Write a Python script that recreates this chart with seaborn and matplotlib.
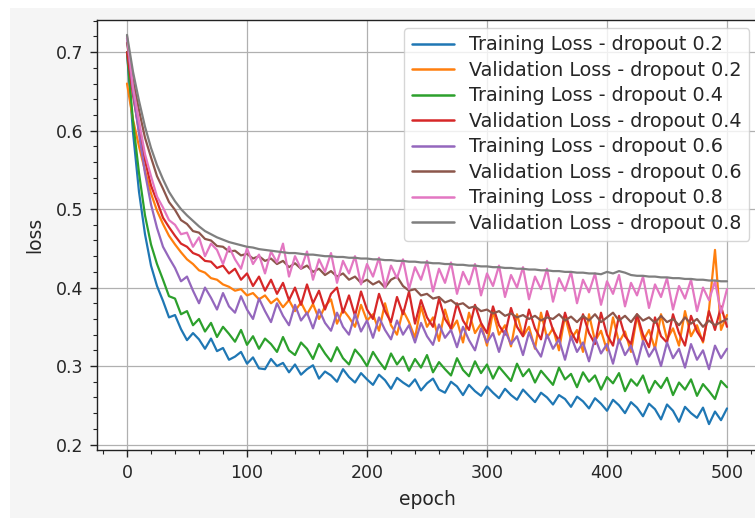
import numpy as np
import pandas as pd
import matplotlib
matplotlib.use("Agg")
import matplotlib.pyplot as plt
from matplotlib.patches import Rectangle
from matplotlib.ticker import MultipleLocator
import seaborn as sns

EPOCHS = list(range(0, 501, 5))

LABELS = [
    "Training Loss - dropout 0.2",
    "Validation Loss - dropout 0.2",
    "Training Loss - dropout 0.4",
    "Validation Loss - dropout 0.4",
    "Training Loss - dropout 0.6",
    "Validation Loss - dropout 0.6",
    "Training Loss - dropout 0.8",
    "Validation Loss - dropout 0.8",
]

train_02 = [
    .700, .598, .522, .468, .428, .402, .383, .362, .365, .347,
    .333, .342, .334, .322, .335, .319, .323, .308, .312, .318,
    .303, .311, .297, .296, .309, .300, .304, .292, .302, .289,
    .296, .301, .284, .293, .288, .280, .296, .286, .279, .291,
    .283, .276, .289, .282, .271, .285, .279, .274, .283, .269,
    .278, .284, .270, .266, .280, .274, .263, .276, .268, .262,
    .274, .266, .259, .271, .263, .257, .270, .262, .254, .266,
    .260, .251, .263, .258, .248, .261, .255, .246, .259, .252,
    .243, .257, .250, .240, .254, .247, .236, .252, .245, .232,
    .251, .243, .229, .248, .240, .234, .247, .226, .242, .231,
    .246,
]

val_02 = [
    .660, .614, .580, .549, .520, .498, .481, .466, .455, .445,
    .436, .430, .422, .419, .412, .410, .404, .401, .396, .398,
    .390, .393, .385, .390, .380, .386, .375, .384, .370, .381,
    .366, .379, .360, .376, .385, .354, .372, .362, .350, .378,
    .358, .366, .345, .380, .352, .340, .371, .356, .336, .376,
    .350, .362, .332, .372, .346, .358, .330, .368, .342, .354,
    .326, .370, .340, .352, .325, .366, .338, .350, .322, .368,
    .336, .348, .320, .364, .334, .346, .318, .366, .332, .345,
    .320, .362, .330, .344, .318, .364, .332, .346, .322, .366,
    .334, .348, .326, .370, .338, .352, .330, .372, .448, .346,
    .365,
]

train_04 = [
    .700, .612, .546, .492, .455, .430, .410, .389, .386, .366,
    .370, .352, .360, .344, .355, .337, .350, .341, .331, .346,
    .327, .338, .322, .335, .328, .318, .337, .320, .314, .330,
    .322, .309, .328, .316, .306, .324, .310, .302, .321, .312,
    .300, .318, .306, .296, .316, .302, .312, .294, .309, .298,
    .314, .292, .305, .296, .288, .310, .295, .287, .306, .291,
    .302, .284, .299, .290, .281, .303, .287, .296, .279, .294,
    .285, .276, .298, .283, .290, .273, .292, .280, .288, .270,
    .286, .278, .291, .268, .283, .275, .288, .266, .281, .272,
    .285, .263, .279, .270, .283, .262, .277, .268, .258, .281,
    .273,
]

val_04 = [
    .700, .645, .600, .562, .530, .510, .489, .477, .466, .456,
    .452, .444, .441, .434, .433, .425, .428, .418, .424, .410,
    .418, .402, .414, .396, .410, .392, .406, .384, .400, .378,
    .404, .380, .396, .372, .392, .400, .368, .390, .364, .395,
    .372, .360, .392, .370, .356, .388, .366, .395, .354, .384,
    .362, .350, .386, .360, .348, .380, .358, .346, .378, .355,
    .342, .376, .352, .340, .374, .350, .338, .372, .348, .334,
    .370, .346, .332, .368, .344, .330, .366, .342, .328, .368,
    .340, .326, .364, .338, .328, .366, .340, .324, .362, .338,
    .330, .366, .342, .326, .364, .344, .332, .370, .346, .376,
    .350,
]

train_06 = [
    .718, .650, .596, .546, .506, .476, .452, .438, .425, .408,
    .414, .396, .380, .400, .387, .372, .393, .376, .368, .389,
    .372, .360, .386, .370, .356, .380, .364, .352, .378, .358,
    .368, .348, .372, .355, .345, .368, .350, .340, .366, .344,
    .358, .336, .362, .346, .334, .358, .340, .352, .330, .355,
    .338, .327, .353, .336, .346, .324, .350, .333, .320, .348,
    .330, .342, .318, .345, .328, .338, .314, .343, .324, .312,
    .340, .322, .334, .308, .338, .318, .330, .306, .336, .316,
    .328, .303, .334, .314, .326, .302, .332, .312, .324, .300,
    .330, .310, .322, .298, .328, .308, .320, .296, .326, .310,
    .322,
]

val_06 = [
    .712, .664, .626, .591, .566, .542, .526, .509, .499, .486,
    .481, .472, .470, .462, .460, .453, .452, .446, .447, .441,
    .443, .437, .440, .434, .437, .430, .434, .426, .431, .424,
    .428, .420, .424, .416, .421, .414, .418, .410, .414, .406,
    .410, .404, .408, .400, .410, .414, .402, .396, .398, .390,
    .392, .386, .388, .381, .384, .378, .380, .374, .376, .370,
    .372, .367, .370, .364, .367, .362, .365, .360, .364, .358,
    .362, .360, .366, .358, .363, .356, .364, .358, .366, .356,
    .362, .368, .358, .364, .356, .366, .358, .362, .355, .364,
    .356, .360, .352, .362, .354, .360, .350, .358, .352, .356,
    .360,
]

train_08 = [
    .720, .655, .612, .570, .542, .516, .502, .486, .480, .468,
    .470, .452, .464, .440, .456, .448, .430, .452, .436, .424,
    .450, .430, .442, .418, .446, .432, .456, .414, .440, .424,
    .446, .410, .436, .420, .444, .406, .434, .418, .440, .404,
    .430, .414, .438, .400, .428, .412, .436, .398, .426, .410,
    .434, .395, .424, .406, .432, .392, .420, .404, .430, .390,
    .418, .402, .428, .388, .416, .400, .426, .385, .414, .398,
    .424, .382, .412, .396, .420, .380, .410, .394, .418, .378,
    .408, .392, .416, .376, .406, .390, .414, .374, .404, .388,
    .412, .372, .402, .386, .410, .370, .400, .384, .408, .368,
    .398,
]

val_08 = [
    .722, .675, .638, .605, .578, .556, .538, .522, .510, .500,
    .492, .485, .478, .472, .468, .464, .461, .458, .456, .454,
    .452, .451, .449, .448, .447, .446, .445, .444, .444, .443,
    .442, .442, .441, .440, .440, .439, .439, .438, .438, .437,
    .437, .436, .436, .435, .435, .434, .434, .433, .433, .432,
    .432, .431, .431, .430, .430, .429, .429, .428, .428, .427,
    .427, .426, .426, .425, .425, .424, .424, .423, .423, .422,
    .422, .421, .421, .420, .420, .419, .419, .418, .418, .417,
    .420, .418, .421, .419, .416, .415, .415, .414, .414, .413,
    .413, .412, .412, .411, .411, .410, .410, .409, .409, .408,
    .408,
]

SERIES = [train_02, val_02, train_04, val_04, train_06, val_06, train_08, val_08]

frames = []
for lab, vals in zip(LABELS, SERIES):
    frames.append(pd.DataFrame({"epoch": EPOCHS[:len(vals)], "loss": vals, "series": lab}))
df = pd.concat(frames, ignore_index=True)

sns.set_style("ticks")
plt.rcParams["font.family"] = ["DejaVu Sans"]

fig = plt.figure(figsize=(7.55, 5.18), dpi=100)
fig.patch.set_facecolor("white")
fig.patches.append(Rectangle((10 / 755, 0), 1, 1 - 8 / 518, transform=fig.transFigure,
                             facecolor="#f5f5f5", edgecolor="none", zorder=-10))
ax = fig.add_axes([97 / 755, 1 - 450 / 518, 660 / 755, 430 / 518])
ax.set_facecolor("white")

palette = sns.color_palette("tab10", 8)
sns.lineplot(data=df, x="epoch", y="loss", hue="series", hue_order=LABELS,
             palette=palette, estimator=None, linewidth=1.6, ax=ax, legend=False)

for lab, col in zip(LABELS, palette):
    ax.plot([], [], color=col, linewidth=1.8, label=lab)

ax.set_xlim(-25, 525)
ax.set_ylim(0.193, 0.741)
ax.xaxis.set_major_locator(MultipleLocator(100))
ax.xaxis.set_minor_locator(MultipleLocator(20))
ax.yaxis.set_major_locator(MultipleLocator(0.1))
ax.yaxis.set_minor_locator(MultipleLocator(0.02))
ax.grid(True, which="major", color="#b0b0b0", linewidth=0.9)
ax.tick_params(axis="both", which="major", labelsize=12.5, length=5, width=1,
               color="#222222", pad=5)
ax.tick_params(axis="both", which="minor", length=3, width=0.8, color="#222222")
ax.set_xlabel("epoch", fontsize=13.5, labelpad=6)
ax.set_ylabel("loss", fontsize=13.5, labelpad=8)
for s in ax.spines.values():
    s.set_color("#222222")
    s.set_linewidth(1.0)

ax.legend(loc="upper right", fontsize=13.8, framealpha=0.8, labelspacing=0.34,
          handlelength=2.2, borderaxespad=0.4)

fig.savefig("out.png", dpi=100, facecolor=fig.get_facecolor())
